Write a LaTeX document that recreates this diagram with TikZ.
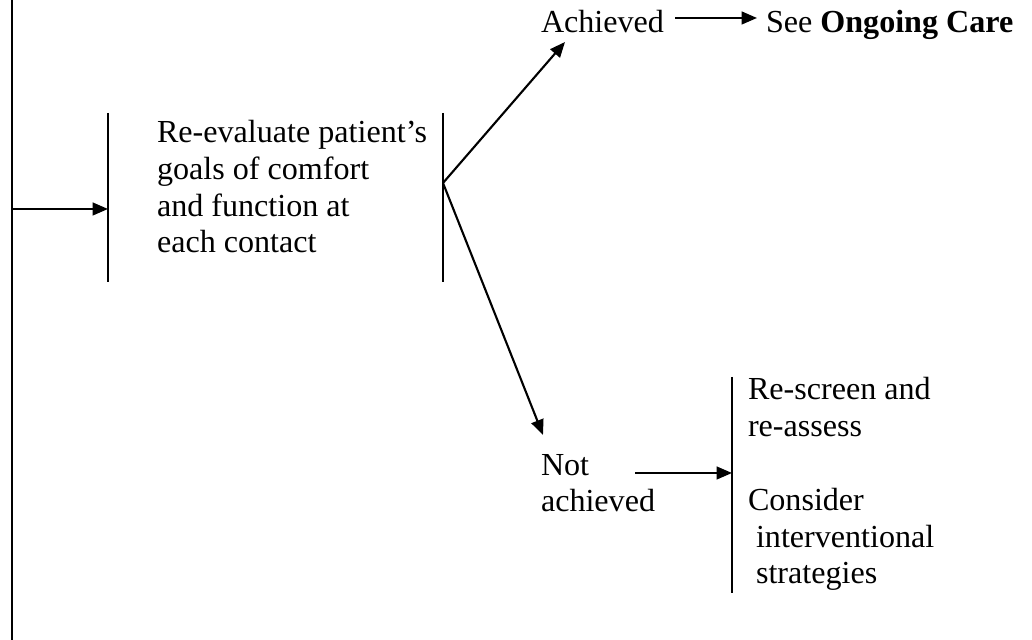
\documentclass[tikz,border=0pt]{standalone}
\usepackage{fontspec}
\setmainfont{Liberation Serif}
\usetikzlibrary{arrows.meta}

\begin{document}
\begin{tikzpicture}[x=0.38pt,y=-0.38pt,
    every node/.style={inner sep=0pt,outer sep=0pt,anchor=base west,align=left,
      font=\fontsize{12.2}{14}\selectfont},
    arr/.style={line width=0.8pt,-{Triangle[length=5.8pt,width=4.8pt]}},
    bar/.style={line width=0.8pt}]
    \useasboundingbox (0,0) rectangle (1032,640);

    \draw[line width=1pt] (12,0) -- (12,640);

	\coordinate (feed) at (12,209);
	\coordinate (evalin) at (108,209);
	\coordinate (evalout) at (443,183);
	\coordinate (achtip) at (565,42);
	\coordinate (nottip) at (543,435);
	\coordinate (achout) at (675,18);
	\coordinate (seein) at (757,18);
	\coordinate (notout) at (635,473);
	\coordinate (redoin) at (732,473);

%	multi-line nodes sit on the baseline of their last line
	\node (eval) at (157,253) {Re-evaluate patient’s\\goals of comfort\\and function at\\each contact};
	\node (ach) at (541,33) {Achieved};
	\node (see) at (766,33) {See \textbf{Ongoing Care}};
	\node (notach) at (541,512) {Not\\achieved};
	\node (redo) at (748,584) {Re-screen and\\re-assess\\[14pt]Consider\\\ interventional\\\ strategies};

%	brackets
  \draw[bar] (108,113) -- (108,282);
  \draw[bar] (443,113) -- (443,282);
  \draw[bar] (732,377) -- (732,593);

  \draw[arr] (feed) -- (evalin);
  \draw[arr] (evalout) -- (achtip);
  \draw[arr] (evalout) -- (nottip);
  \draw[arr] (achout) -- (seein);
  \draw[arr] (notout) -- (redoin);
\end{tikzpicture}
\end{document}
